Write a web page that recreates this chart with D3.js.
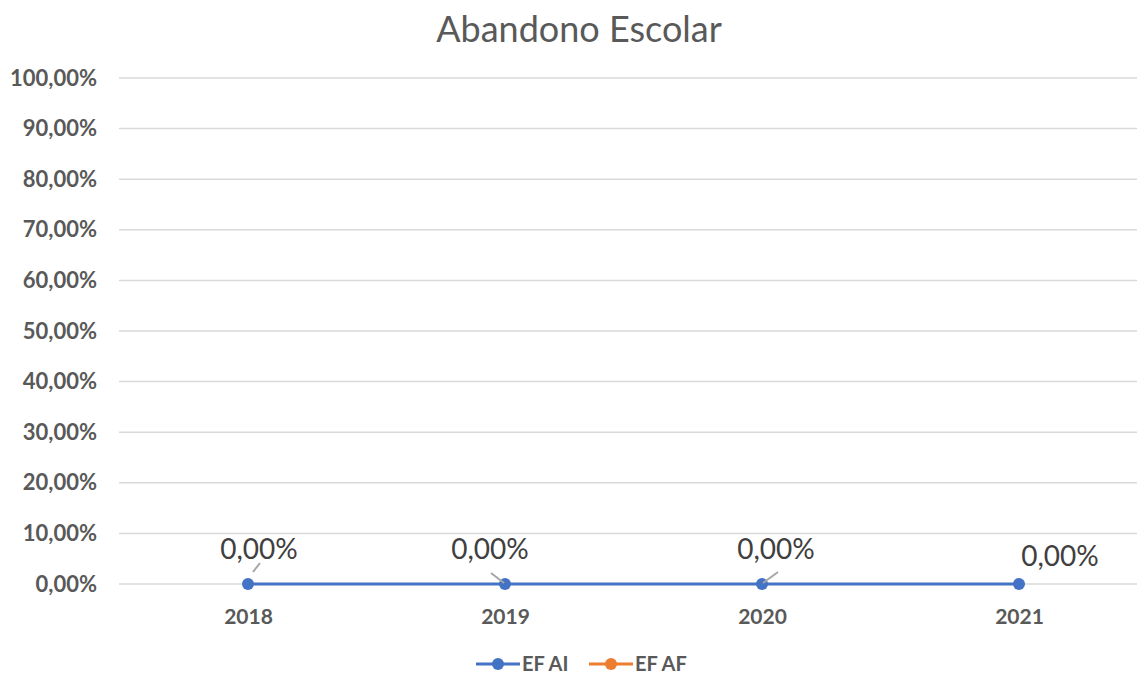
<!DOCTYPE html>
<html>
<head>
<meta charset="utf-8">
<script src="https://cdn.jsdelivr.net/npm/d3@7"></script>
<style>
  html, body { margin: 0; padding: 0; background: #fff; }
  svg { display: block; font-family: Lato, "Open Sans", sans-serif; }
</style>
</head>
<body>
<svg id="chart" width="1137" height="674"></svg>
<script>
// Abandono escolar por ano (taxa, fração)
const years = ["2018", "2019", "2020", "2021"];
const efAI = [0, 0, 0, 0];
const efAF = [null, null, null, null];
const yTicks = [0, 0.1, 0.2, 0.3, 0.4, 0.5, 0.6, 0.7, 0.8, 0.9, 1.0];
const seriesNames = ["EF AI", "EF AF"];
const seriesColors = ["#4472C4", "#ED7D31"];

// label placement (offsets from the point, px) for the EF AI labels
const labelOffset = [[11, -25], [-15, -25], [14, -25], [41, -18]];
const leaderLines = [[[5, -12], [12, -21]], [[-1, -1], [-14, -11]], [[1, -1], [16, -12]], null];

const W = 1137, H = 674;
const svg = d3.select("#chart");

const x = d3.scalePoint().domain(years).range([119.5, 1147.5]).padding(0.5);
const y = d3.scaleLinear().domain([0, 1]).range([584, 78]);

const fmt = v => d3.format(".2f")(v * 100).replace(".", ",") + "%";

// title
svg.append("text")
  .attr("x", 579).attr("y", 42)
  .attr("text-anchor", "middle")
  .attr("font-size", 36)
  .attr("fill", "#595959")
  .text("Abandono Escolar");

// y axis labels
const yAxis = d3.axisLeft(y).tickValues(yTicks).tickFormat(fmt).tickSize(0).tickPadding(0);
const gy = svg.append("g").attr("transform", "translate(97,0)").call(yAxis);
gy.select(".domain").remove();
gy.selectAll("text")
  .attr("font-family", "Lato, sans-serif")
  .attr("font-weight", "bold")
  .attr("font-size", 22)
  .attr("fill", "#595959");

// horizontal gridlines
svg.append("g").selectAll("line")
  .data(yTicks)
  .join("line")
  .attr("x1", 119).attr("x2", W)
  .attr("y1", d => y(d)).attr("y2", d => y(d))
  .attr("stroke", "#d9d9d9").attr("stroke-width", 1.5);

// category axis labels
const xAxis = d3.axisBottom(x).tickSize(0).tickPadding(0);
const gx = svg.append("g").attr("transform", "translate(0,617)").call(xAxis);
gx.select(".domain").remove();
gx.selectAll("text")
  .attr("dy", "0.35em")
  .attr("font-family", "Lato, sans-serif")
  .attr("font-weight", "bold")
  .attr("font-size", 21)
  .attr("fill", "#595959");

// series lines and markers
const seriesData = [efAI, efAF];
const line = d3.line()
  .defined(d => d.v != null)
  .x(d => x(d.year)).y(d => y(d.v));

seriesData.slice().reverse().forEach((vals, ri) => {
  const i = seriesData.length - 1 - ri;
  const pts = years.map((yr, k) => ({ year: yr, v: vals[k] }));
  svg.append("path")
    .datum(pts)
    .attr("d", line)
    .attr("fill", "none")
    .attr("stroke", seriesColors[i])
    .attr("stroke-width", 3.2);
  svg.append("g").selectAll("circle")
    .data(pts.filter(d => d.v != null))
    .join("circle")
    .attr("cx", d => x(d.year)).attr("cy", d => y(d.v))
    .attr("r", 6)
    .attr("fill", seriesColors[i]);
});

// data labels with leader lines (EF AI)
const lab = svg.append("g");
years.forEach((yr, k) => {
  const v = efAI[k];
  if (v == null) return;
  const px = x(yr), py = y(v);
  const ll = leaderLines[k];
  if (ll) {
    lab.append("line")
      .attr("x1", px + ll[0][0]).attr("y1", py + ll[0][1])
      .attr("x2", px + ll[1][0]).attr("y2", py + ll[1][1])
      .attr("stroke", "#a6a6a6").attr("stroke-width", 2);
  }
  lab.append("text")
    .attr("x", px + labelOffset[k][0]).attr("y", py + labelOffset[k][1])
    .attr("text-anchor", "middle")
    .attr("font-size", 28)
    .attr("fill", "#404040")
    .text(fmt(v));
});

// legend
const leg = svg.append("g");
const legX = [476, 589];
seriesNames.forEach((name, i) => {
  const g = leg.append("g").attr("transform", `translate(${legX[i]},664)`);
  g.append("line").attr("x1", 0).attr("x2", 44).attr("y1", 0).attr("y2", 0)
    .attr("stroke", seriesColors[i]).attr("stroke-width", 3.2);
  g.append("circle").attr("cx", 22).attr("cy", 0).attr("r", 6).attr("fill", seriesColors[i]);
  g.append("text").attr("x", 46).attr("y", 7)
    .attr("font-weight", "bold").attr("font-size", 20)
    .attr("fill", "#595959").text(name);
});
</script>
</body>
</html>
